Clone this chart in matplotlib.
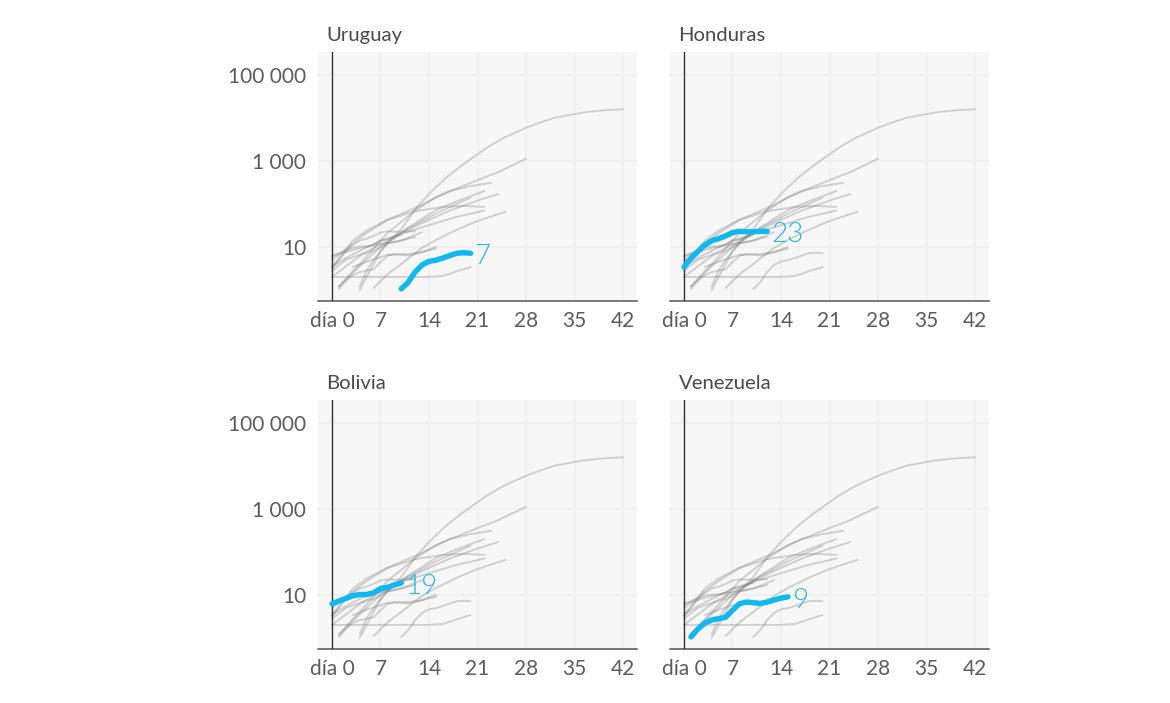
import matplotlib
matplotlib.use("Agg")
import matplotlib.pyplot as plt
from matplotlib import font_manager as fm

plt.rcParams['font.family'] = ['Lato', 'DejaVu Sans']

COUNTRIES = ["Uruguay", "Honduras", "Bolivia", "Venezuela"]
END_LABELS = ["7", "23", "19", "9"]

uruguay_d = [10, 11, 12, 13, 14, 15, 16, 17, 18, 19, 20]
uruguay_v = [1.05, 1.5, 2.6, 3.8, 4.6, 4.9, 5.5, 6.3, 7.1, 7.3, 7.1]
honduras_d = [0, 1, 2, 3, 4, 5, 6, 7, 8, 9, 10, 11, 12]
honduras_v = [3.4, 5.4, 7.8, 11, 14, 15.5, 18, 21.5, 23, 22.5, 22.5, 23, 23]
bolivia_d = [0, 1, 2, 3, 4, 5, 6, 7, 8, 9, 10]
bolivia_v = [6.2, 7.2, 8.3, 9.6, 10.2, 10.2, 11.2, 14, 15, 17, 19]
venezuela_d = [1, 2, 3, 4, 5, 6, 7, 8, 9, 10, 11, 12, 13, 14, 15]
venezuela_v = [1.05, 1.6, 2.2, 2.6, 2.8, 3.0, 4.4, 6.2, 6.8, 6.6, 6.3, 6.8, 7.6, 8.4, 9]
HIGHLIGHT_D = [uruguay_d, honduras_d, bolivia_d, venezuela_d]
HIGHLIGHT_V = [uruguay_v, honduras_v, bolivia_v, venezuela_v]

a_d = [4, 5, 6, 7, 8, 10, 12, 14, 16.6, 18.5, 20.4, 22.5, 24.7, 26.5, 28, 30, 32, 34.5, 36.8, 39, 42]
a_v = [1, 2, 4, 8, 12, 26, 75, 170, 425, 740, 1230, 2100, 3400, 4600, 5900, 7800, 10000, 12000, 13800, 15000, 16000]
b_d = [1, 2, 3, 5, 8, 12, 15, 20, 24, 28]
b_v = [1.2, 1.8, 2.7, 6, 21, 70, 145, 310, 550, 1120]
c_d = [0, 1, 3, 5, 8, 12, 17, 20, 23]
c_v = [3.2, 5, 14, 24, 43, 80, 200, 260, 310]
d_d = [4, 5, 6, 8, 11, 15, 18, 22]
d_v = [1.2, 2.8, 5, 12, 28, 72, 115, 200]
e_d = [0, 2, 4.5, 8, 13, 17, 21, 24]
e_v = [2, 3.5, 7, 14, 36, 70, 120, 170]
f_d = [6, 8, 10, 13, 15, 18, 21, 25]
f_v = [1.1, 2.3, 4, 9.5, 14.5, 25, 40, 65]
h_d = [0, 1, 3, 5, 8, 12, 16, 19, 22]
h_v = [5, 6.5, 12, 21, 42, 68, 85, 90, 85]
i_d = [0, 2, 4, 7, 10, 14, 18, 22]
i_v = [3.5, 5.5, 8, 14, 20, 32, 50, 70]
j_d = [1, 3, 5, 7, 10, 13, 15, 18, 20]
j_v = [1.2, 2.5, 5, 10, 22, 40, 60, 100, 138]
k_d = [0, 5, 10, 14, 16, 18, 20]
k_v = [2, 2, 2, 2, 2.1, 2.7, 3.4]
l_d = [3, 5, 8, 11, 13, 15]
l_v = [3.4, 4.5, 6.5, 6.8, 7.5, 10]
m_d = [0, 2, 4, 6, 8, 10, 13]
m_v = [2.8, 5, 6.5, 8, 12, 14, 22]
n_d = [0, 3, 6, 9, 12]
n_v = [6, 8.5, 11, 13, 17]
OTHER_D = [a_d, b_d, c_d, d_d, e_d, f_d, h_d, i_d, j_d, k_d, l_d, m_d, n_d]
OTHER_V = [a_v, b_v, c_v, d_v, e_v, f_v, h_v, i_v, j_v, k_v, l_v, m_v, n_v]

X_TICKS = [0, 7, 14, 21, 28, 35, 42]
X_LABELS = ["día 0", "7", "14", "21", "28", "35", "42"]
Y_TICKS = [10, 1000, 100000]
Y_LABELS = ["10", "1 000", "100 000"]

light_files = [f.fname for f in fm.fontManager.ttflist
               if f.fname.endswith("Lato-Light.ttf")]
LIGHT = fm.FontProperties(fname=light_files[0]) if light_files else fm.FontProperties(family="Lato")

W, H = 1170, 703
fig = plt.figure(figsize=(W / 100, H / 100), dpi=100, facecolor="white")
BLUE = "#10b8f0"
TEXT = "#5c5c5c"
GREY = dict(color="#777777", alpha=0.3, lw=1.4, zorder=2, solid_capstyle="round")
PANELS = [(318, 52), (670, 52), (318, 400), (670, 400)]
PW, PH = 319, 249

for idx, name in enumerate(COUNTRIES):
    left, top = PANELS[idx]
    ax = fig.add_axes([left / W, 1 - (top + PH) / H, PW / W, PH / H])
    ax.set_facecolor("#f7f7f7")
    ax.set_yscale("log")
    ax.set_xlim(-2.02, 44.02)
    ax.set_ylim(0.55, 343000)
    ax.minorticks_off()
    ax.grid(True, color="#efefef", lw=1.1, zorder=0)
    ax.set_axisbelow(True)
    for s in ["top", "left", "right"]:
        ax.spines[s].set_visible(False)
    ax.spines["bottom"].set_color("#555555")
    ax.spines["bottom"].set_linewidth(1.1)
    ax.axvline(0, color="#333333", lw=1.0, zorder=5)

    ax.set_xticks(X_TICKS, X_LABELS)
    ax.set_yticks(Y_TICKS, Y_LABELS)
    ax.tick_params(axis="both", length=0, labelsize=15, labelcolor=TEXT)
    ax.tick_params(axis="x", pad=7)
    ax.tick_params(axis="y", pad=8.5, labelleft=idx in (0, 2))

    for dd, vv in zip(OTHER_D, OTHER_V):
        ax.plot(dd, vv, **GREY)
    for j in range(4):
        if j != idx:
            ax.plot(HIGHLIGHT_D[j], HIGHLIGHT_V[j], **GREY)

    ax.plot(HIGHLIGHT_D[idx], HIGHLIGHT_V[idx], color=BLUE, lw=3.9, zorder=6,
            solid_capstyle="round", solid_joinstyle="round")
    lab = ax.annotate(END_LABELS[idx], (HIGHLIGHT_D[idx][-1], HIGHLIGHT_V[idx][-1]),
                      xytext=(3, -2.5), textcoords="offset points", color="#22b6ea",
                      va="center", ha="left", zorder=7, fontproperties=LIGHT)
    lab.set_fontsize(20)
    ax.annotate(name, (0, 1), xycoords="axes fraction", xytext=(8.5, 8),
                textcoords="offset pixels", fontsize=14.6, color="#4a4a4a",
                ha="left", va="bottom")

fig.savefig("out.png", dpi=100, facecolor="white")
